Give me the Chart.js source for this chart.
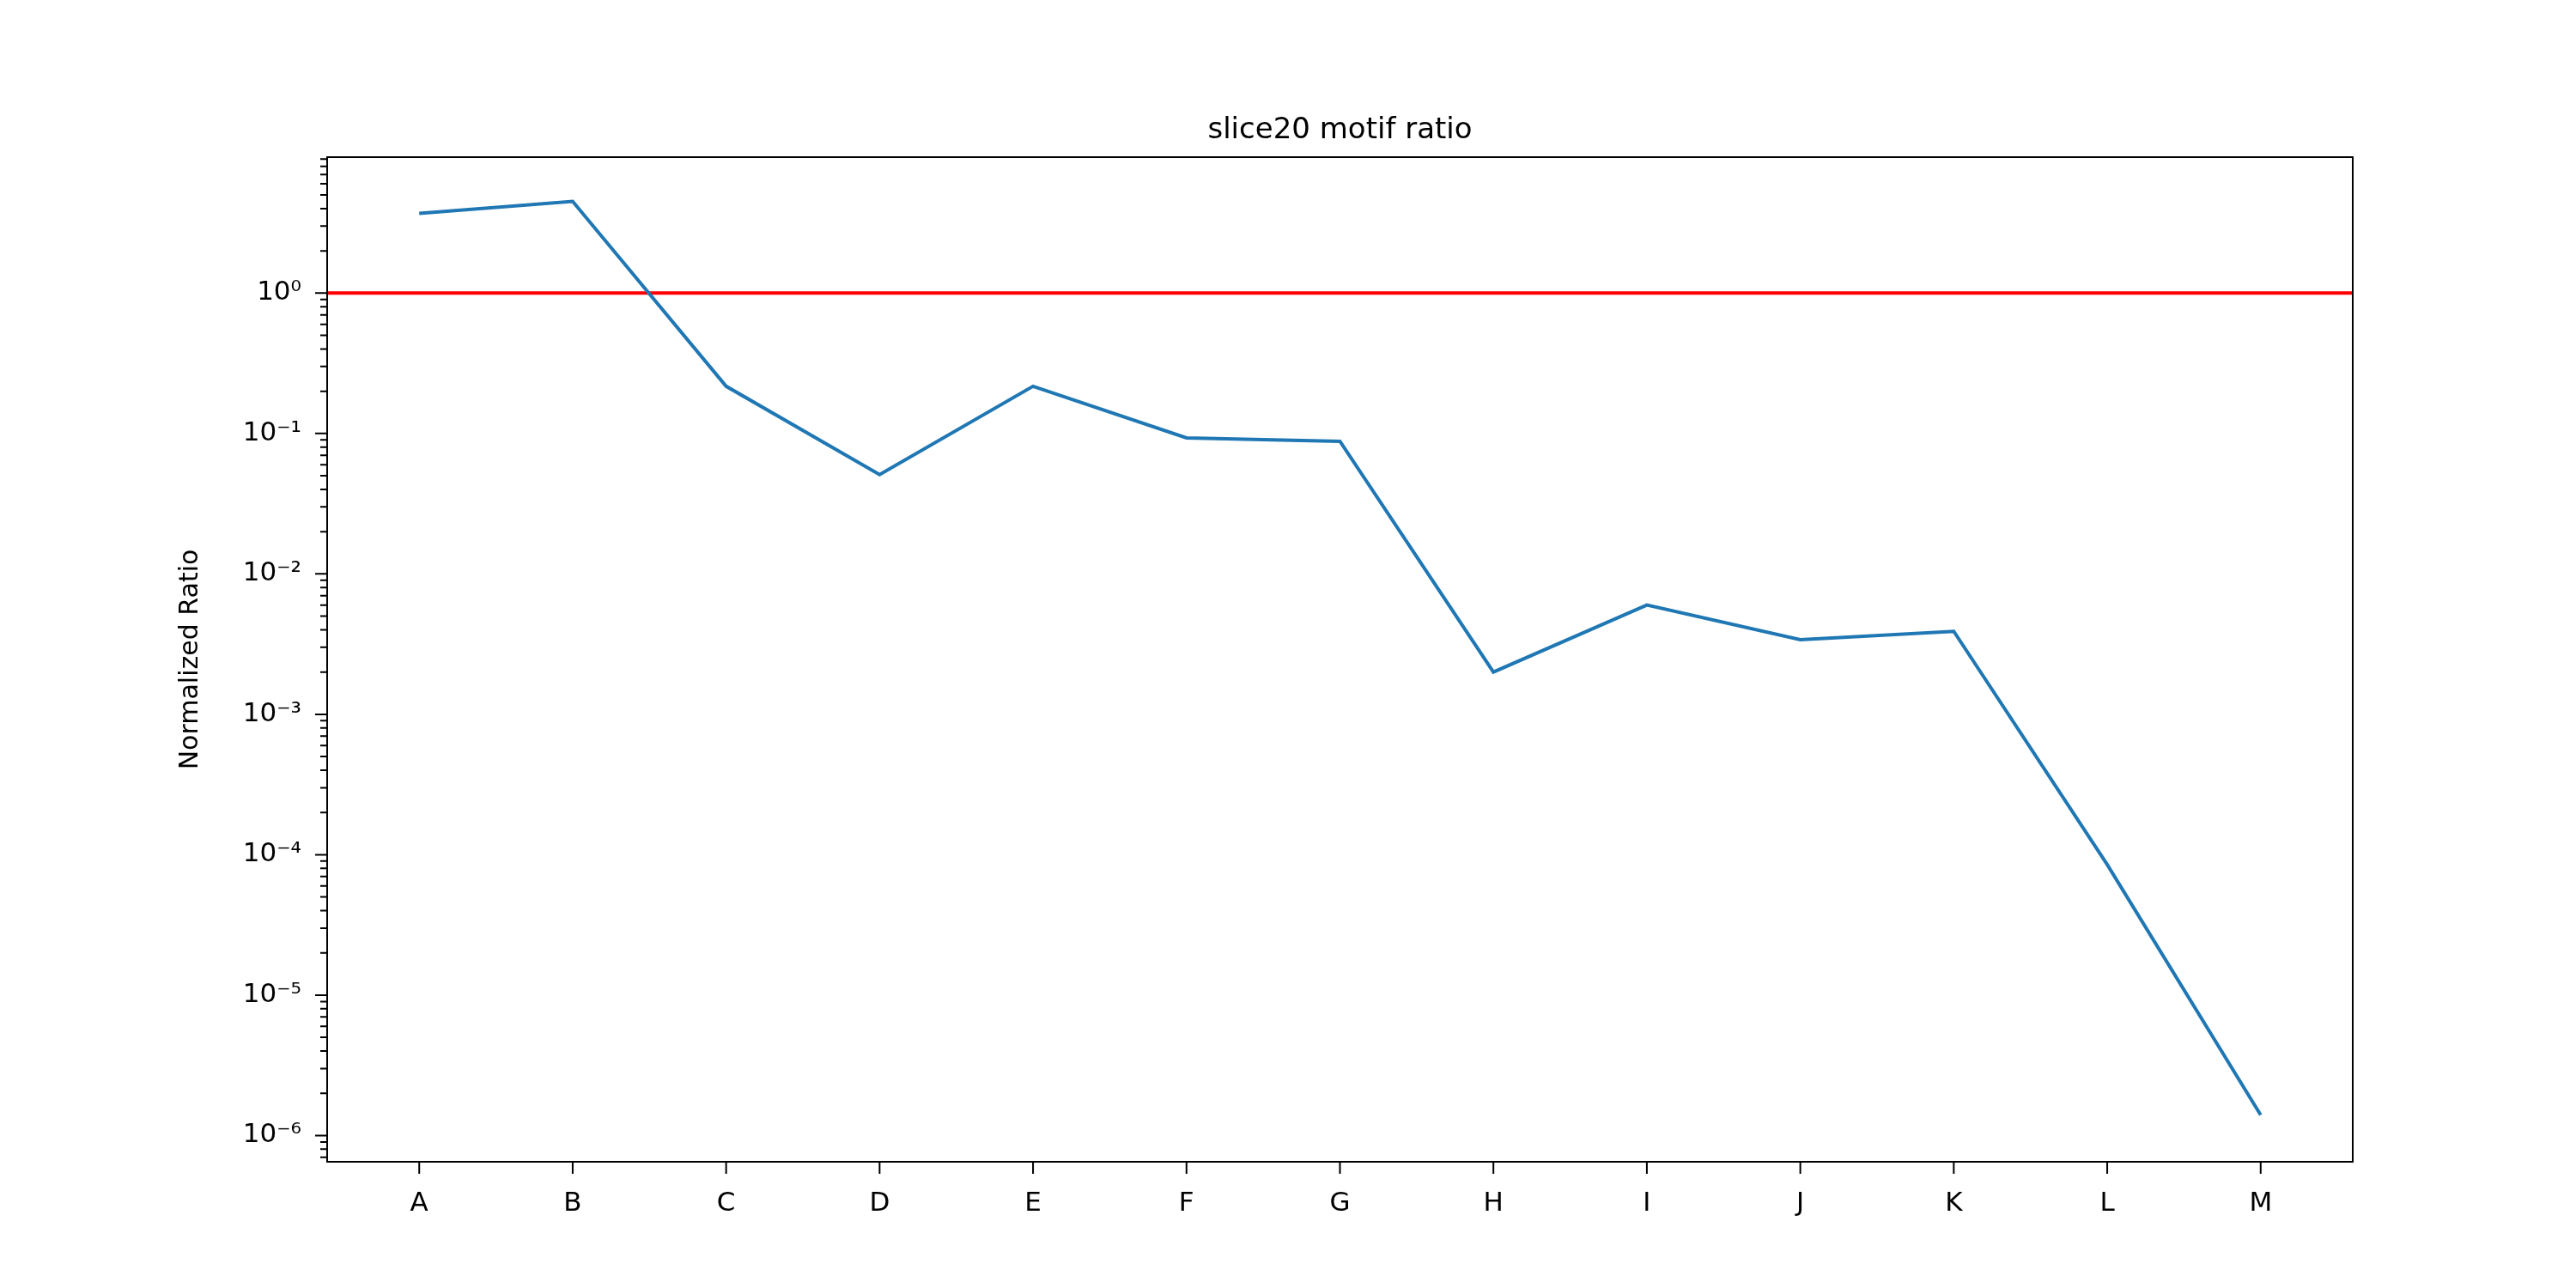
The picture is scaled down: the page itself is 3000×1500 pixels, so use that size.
<!DOCTYPE html>
<html><head><meta charset="utf-8">
<script src="https://cdn.jsdelivr.net/npm/chart.js@4/dist/chart.umd.min.js"></script>
<style>body{margin:0;background:#fff}canvas{display:block}</style>
</head><body>
<canvas id="c" width="3000" height="1500" style="width:3000px;height:1500px"></canvas>
<script>
const categories = ["A","B","C","D","E","F","G","H","I","J","K","L","M"];
const ratios = [3.7, 4.5, 0.217, 0.051, 0.217, 0.093, 0.088, 0.002, 0.006, 0.0034, 0.0039, 0.000085, 0.0000014];
const referenceLevel = 1;
const chartTitle = "slice20 motif ratio";
const yTitle = "Normalized Ratio";
const sup = {"-":"⁻","0":"⁰","1":"¹","2":"²","3":"³","4":"⁴","5":"⁵","6":"⁶","7":"⁷","8":"⁸","9":"⁹"};
function powLabel(v){
  const e = Math.log10(v);
  if (Math.abs(e - Math.round(e)) > 1e-9) return "";
  return "10" + String(Math.round(e)).split("").map(c=>sup[c]).join("");
}
const framePlugin = {
  id:"frame",
  afterDraw(chart){
    const {ctx, chartArea:a, scales} = chart;
    ctx.save();
    ctx.strokeStyle="#000"; ctx.lineWidth=2;
    ctx.strokeRect(a.left, a.top, a.right-a.left, a.bottom-a.top);
    ctx.beginPath();
    categories.forEach((_,i)=>{const x=scales.x.getPixelForValue(i); ctx.moveTo(x,a.bottom); ctx.lineTo(x,a.bottom+14);});
    const y=scales.y;
    for(let e=-7;e<=1;e++){
      for(let m=1;m<10;m++){
        const v=m*Math.pow(10,e);
        if(v<y.min||v>y.max) continue;
        const p=y.getPixelForValue(v);
        ctx.moveTo(a.left,p); ctx.lineTo(a.left-(m===1?14:8),p);
      }
    }
    ctx.stroke();
    ctx.fillStyle="#000";
    ctx.textAlign="center"; ctx.textBaseline="alphabetic";
    ctx.font="34px 'DejaVu Sans'";
    ctx.fillText(chartTitle,(a.left+a.right)/2,a.top-22);
    ctx.translate(222,(a.top+a.bottom)/2);
    ctx.rotate(-Math.PI/2);
    ctx.textBaseline="middle";
    ctx.font="30px 'DejaVu Sans'";
    ctx.fillText(yTitle,0,0);
    ctx.restore();
  }
};
new Chart(document.getElementById("c"),{
  type:"line",
  data:{datasets:[
    {data:categories.map((c,i)=>({x:i,y:ratios[i]})),borderColor:"#1f77b4",borderWidth:4,pointRadius:0,tension:0},
    {data:[{x:-0.6,y:referenceLevel},{x:12.6,y:referenceLevel}],borderColor:"#ff0000",borderWidth:4,pointRadius:0}
  ]},
  options:{
    responsive:false,animation:false,devicePixelRatio:1,
    layout:{padding:{left:0,right:260,bottom:0,top:183}},
    plugins:{legend:{display:false},tooltip:{enabled:false},title:{display:false}},
    scales:{
      x:{type:"linear",min:-0.6,max:12.6,grid:{display:false},border:{display:false},
        afterBuildTicks(s){s.ticks=categories.map((_,i)=>({value:i}));},
        ticks:{autoSkip:false,maxRotation:0,padding:22,color:"#000",font:{family:"DejaVu Sans",size:31},callback:v=>categories[v]},
        afterFit(s){s.height=147;}},
      y:{type:"logarithmic",min:6.5e-7,max:9.3,grid:{display:false},border:{display:false},
        afterBuildTicks(s){s.ticks=[];for(let e=-6;e<=0;e++)s.ticks.push({value:Math.pow(10,e)});},
        ticks:{autoSkip:false,padding:22,color:"#000",font:{family:"DejaVu Sans",size:31},callback:v=>powLabel(v)},
        afterFit(s){s.width=381;}}
    }
  },
  plugins:[framePlugin]
});
</script></body></html>
